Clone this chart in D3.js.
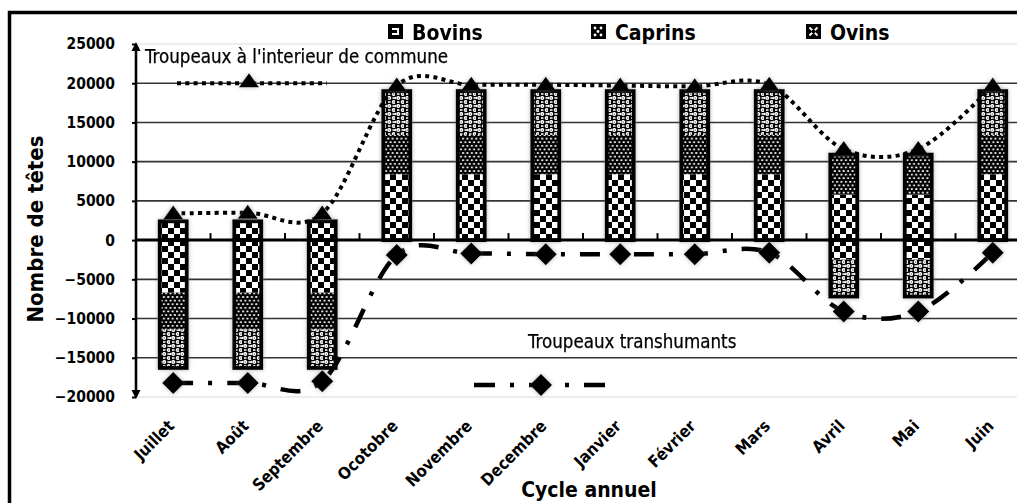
<!DOCTYPE html>
<html>
<head>
<meta charset="utf-8">
<script src="https://cdn.jsdelivr.net/npm/d3@7"></script>
<style>
  html, body { margin: 0; padding: 0; background: #fff; }
  svg { display: block; }
  text { font-family: "DejaVu Sans Condensed", "DejaVu Sans", sans-serif; font-stretch: condensed; fill: #000; }
</style>
</head>
<body>
<svg id="chart" width="1017" height="503"></svg>
<script>
// Months of the pastoral year
const months = ["Juillet", "Août", "Septembre", "Ocotobre", "Novembre", "Decembre",
                "Janvier", "Février", "Mars", "Avril", "Mai", "Juin"];

// Herds staying inside the commune (positive side)
const bovinsInterieur  = [2400, 2400, 2400, 8400, 8400, 8400, 8400, 8400, 8400, 5800, 5800, 8400];
const caprinsInterieur = [0, 0, 0, 5000, 5000, 5000, 5000, 5000, 5000, 5100, 5100, 5000];
const ovinsInterieur   = [0, 0, 0, 5600, 5600, 5600, 5600, 5600, 5600, 0, 0, 5600];

// Transhumant herds (negative side)
const bovinsTranshumants  = [-6700, -6700, -6700, 0, 0, 0, 0, 0, 0, -2500, -2500, 0];
const caprinsTranshumants = [-4700, -4700, -4700, 0, 0, 0, 0, 0, 0, 0, 0, 0];
const ovinsTranshumants   = [-4900, -4900, -4900, 0, 0, 0, 0, 0, 0, -4700, -4700, 0];

// Trend lines
const troupeauxInterieur    = [3400, 3500, 3400, 19700, 19800, 19800, 19700, 19600, 19800, 11600, 11600, 19700];
const troupeauxTranshumants = [-18200, -18200, -18000, -1900, -1700, -1800, -1800, -1800, -1600, -9100, -9100, -1600];

const yTicks = [-20000, -15000, -10000, -5000, 0, 5000, 10000, 15000, 20000, 25000];
const especes = ["Bovins", "Caprins", "Ovins"];

const svg = d3.select("#chart");
const defs = svg.append("defs");

// ---- fill patterns -------------------------------------------------------
const pBov = defs.append("pattern").attr("id", "p-bovins")
  .attr("patternUnits", "userSpaceOnUse").attr("width", 12).attr("height", 12);
pBov.append("rect").attr("width", 12).attr("height", 12).attr("fill", "#fff");
pBov.append("rect").attr("width", 6).attr("height", 6).attr("fill", "#000");
pBov.append("rect").attr("x", 6).attr("y", 6).attr("width", 6).attr("height", 6).attr("fill", "#000");

const pCap = defs.append("pattern").attr("id", "p-caprins")
  .attr("patternUnits", "userSpaceOnUse").attr("width", 4.4).attr("height", 7.2);
pCap.append("rect").attr("width", 4.4).attr("height", 7.2).attr("fill", "#000");
pCap.append("ellipse").attr("cx", 1.1).attr("cy", 1.8).attr("rx", 1.15).attr("ry", 0.95).attr("fill", "#fff");
pCap.append("ellipse").attr("cx", 3.3).attr("cy", 5.4).attr("rx", 1.15).attr("ry", 0.95).attr("fill", "#fff");

const pOv = defs.append("pattern").attr("id", "p-ovins")
  .attr("patternUnits", "userSpaceOnUse").attr("width", 9).attr("height", 8);
pOv.append("rect").attr("width", 9).attr("height", 8).attr("fill", "#fff");
[[2.25, 2], [6.75, 6], [6.75, -2], [-2.25, 6], [11.25, 6], [2.25, 10]].forEach(([cx, cy]) => {
  pOv.append("circle").attr("cx", cx).attr("cy", cy).attr("r", 2.7)
    .attr("fill", "none").attr("stroke", "#000").attr("stroke-width", 1.3);
  pOv.append("circle").attr("cx", cx).attr("cy", cy).attr("r", 0.6).attr("fill", "#000");
});

// soft grey halo around bars and markers
const glow = defs.append("filter").attr("id", "halo")
  .attr("x", "-40%").attr("y", "-40%").attr("width", "180%").attr("height", "180%");
glow.append("feGaussianBlur").attr("in", "SourceAlpha").attr("stdDeviation", 2.2).attr("result", "b");
glow.append("feFlood").attr("flood-color", "#777").attr("flood-opacity", 0.55);
glow.append("feComposite").attr("in2", "b").attr("operator", "in").attr("result", "s");
const gm = glow.append("feMerge");
gm.append("feMergeNode").attr("in", "s");
gm.append("feMergeNode").attr("in", "SourceGraphic");

const fills = { Bovins: "url(#p-bovins)", Caprins: "url(#p-caprins)", Ovins: "url(#p-ovins)" };

// ---- scales --------------------------------------------------------------
const x = d3.scaleBand().domain(months).range([136, 1030]).padding(0);
const y = d3.scaleLinear().domain([-20000, 25000]).range([397, 44]);
const barW = 27;

// ---- outer frame ---------------------------------------------------------
svg.append("rect").attr("x", 9.5).attr("y", 12.5).attr("width", 1100).attr("height", 600)
  .attr("fill", "none").attr("stroke", "#000").attr("stroke-width", 3.5);

// ---- grid ----------------------------------------------------------------
const grid = svg.append("g");
yTicks.forEach(v => {
  const edge = (v === 25000 || v === -20000);
  if (v === 0) return;
  grid.append("line")
    .attr("x1", x.range()[0]).attr("x2", 1017)
    .attr("y1", y(v)).attr("y2", y(v))
    .attr("stroke", edge ? "#d5dbe3" : "#333")
    .attr("stroke-width", edge ? 1.2 : 1.6);
});

// ---- stacked bars --------------------------------------------------------
const rows = months.map((m, i) => ({
  mois: m,
  Bovins_i: bovinsInterieur[i], Caprins_i: caprinsInterieur[i], Ovins_i: ovinsInterieur[i],
  Bovins_t: bovinsTranshumants[i], Caprins_t: caprinsTranshumants[i], Ovins_t: ovinsTranshumants[i]
}));
const keys = ["Bovins_i", "Caprins_i", "Ovins_i", "Bovins_t", "Caprins_t", "Ovins_t"];
const series = d3.stack().keys(keys).offset(d3.stackOffsetDiverging)(rows);

const bars = svg.append("g").attr("filter", "url(#halo)");
months.forEach((m, i) => {
  const top = bovinsInterieur[i] + caprinsInterieur[i] + ovinsInterieur[i];
  const bot = bovinsTranshumants[i] + caprinsTranshumants[i] + ovinsTranshumants[i];
  const cx = x(m) + x.bandwidth() / 2;
  const g = bars.append("g");
  series.forEach(s => {
    const d = s[i];
    if (d[0] === d[1]) return;
    g.append("rect")
      .attr("x", cx - barW / 2).attr("width", barW)
      .attr("y", y(Math.max(d[0], d[1]))).attr("height", Math.abs(y(d[0]) - y(d[1])))
      .attr("fill", fills[s.key.split("_")[0]]);
  });
  [[0, top], [bot, 0]].forEach(([a, b]) => {
    if (a === b) return;
    g.append("rect")
      .attr("x", cx - barW / 2).attr("width", barW)
      .attr("y", y(b)).attr("height", y(a) - y(b))
      .attr("fill", "none").attr("stroke", "#000").attr("stroke-width", 3.8);
  });
});

// ---- axes ----------------------------------------------------------------
const x0 = x.range()[0];
// horizontal zero line
svg.append("line").attr("x1", x0).attr("x2", 1017).attr("y1", y(0)).attr("y2", y(0))
  .attr("stroke", "#000").attr("stroke-width", 3);
// category boundary ticks on the zero line
months.slice(1).forEach(m => {
  svg.append("line").attr("x1", x(m)).attr("x2", x(m))
    .attr("y1", y(0)).attr("y2", y(0) - 7).attr("stroke", "#000").attr("stroke-width", 2);
});

// vertical axis with arrowheads
const yAxisG = svg.append("g").attr("transform", `translate(${x0},0)`)
  .call(d3.axisLeft(y).tickValues(yTicks).tickSize(4).tickPadding(17).tickFormat(d3.format("d")));
yAxisG.select(".domain").remove();
yAxisG.selectAll(".tick line").attr("stroke", "#000").attr("stroke-width", 2);
yAxisG.selectAll(".tick text")
  .attr("font-family", '"DejaVu Sans Condensed", "DejaVu Sans", sans-serif')
  .attr("font-size", 15.5).attr("font-weight", "bold");
svg.append("line").attr("x1", x0).attr("x2", x0).attr("y1", y(25000) + 2).attr("y2", y(-20000) - 2)
  .attr("stroke", "#000").attr("stroke-width", 2.6);
svg.append("path").attr("d", `M${x0},${y(25000) - 2} l-4.5,9 l9,0 Z`).attr("fill", "#000");
svg.append("path").attr("d", `M${x0},${y(-20000) + 2} l-4.5,-9 l9,0 Z`).attr("fill", "#000");

// month labels
svg.append("g").selectAll("text").data(months).join("text")
  .attr("transform", m => `translate(${x(m) + x.bandwidth() / 2 + 2},${427}) rotate(-45)`)
  .attr("text-anchor", "end")
  .attr("font-size", 16.5).attr("font-weight", "bold")
  .text(m => m);

// axis titles
svg.append("text").attr("transform", "translate(43,229) rotate(-90)")
  .attr("text-anchor", "middle").attr("font-size", 22).attr("font-weight", "bold")
  .text("Nombre de têtes");
svg.append("text").attr("x", 589).attr("y", 497)
  .attr("text-anchor", "middle").attr("font-size", 21).attr("font-weight", "bold")
  .text("Cycle annuel");

// ---- trend lines ---------------------------------------------------------
const line = d3.line()
  .x((d, i) => x(months[i]) + x.bandwidth() / 2)
  .y(d => y(d))
  .curve(d3.curveCardinal.tension(0));

svg.append("path").datum(troupeauxInterieur).attr("d", line)
  .attr("fill", "none").attr("stroke", "#000").attr("stroke-width", 4)
  .attr("stroke-dasharray", "4 4.3");
svg.append("path").datum(troupeauxTranshumants).attr("d", line)
  .attr("fill", "none").attr("stroke", "#000").attr("stroke-width", 4.5)
  .attr("stroke-dasharray", "20 15 4 15");

const triangle = "M0,-8 L10,6 L-10,6 Z";
const diamond = "M0,-11 L11,0 L0,11 L-11,0 Z";

const marks = svg.append("g").attr("filter", "url(#halo)");
marks.selectAll(".tri").data(troupeauxInterieur).join("path")
  .attr("d", triangle)
  .attr("transform", (d, i) => `translate(${x(months[i]) + x.bandwidth() / 2},${y(d)})`);
marks.selectAll(".dia").data(troupeauxTranshumants).join("path")
  .attr("d", diamond)
  .attr("transform", (d, i) => `translate(${x(months[i]) + x.bandwidth() / 2},${y(d)})`);

// ---- series labels with line samples -------------------------------------
svg.append("text").attr("x", 145).attr("y", 63).attr("font-size", 18.6)
  .attr("stroke", "#000").attr("stroke-width", 0.25)
  .text("Troupeaux à l'interieur de commune");
svg.append("line").attr("x1", 177).attr("x2", 327).attr("y1", y(20000)).attr("y2", y(20000))
  .attr("stroke", "#000").attr("stroke-width", 4).attr("stroke-dasharray", "4 4.3");
svg.append("path").attr("d", triangle).attr("transform", `translate(249,${y(20000) - 2})`)
  .attr("filter", "url(#halo)");

svg.append("text").attr("x", 528).attr("y", 348).attr("font-size", 18.6)
  .attr("stroke", "#000").attr("stroke-width", 0.25)
  .text("Troupeaux transhumants");
svg.append("line").attr("x1", 474).attr("x2", 607).attr("y1", 385).attr("y2", 385)
  .attr("stroke", "#000").attr("stroke-width", 4.5).attr("stroke-dasharray", "21 15 4 15");
svg.append("path").attr("d", diamond).attr("transform", "translate(541,385)")
  .attr("filter", "url(#halo)");

// ---- legend --------------------------------------------------------------
const legendX = { Bovins: 388, Caprins: 591, Ovins: 806 };
const leg = svg.append("g");
especes.forEach(e => {
  const gx = legendX[e];
  const g = leg.append("g").attr("transform", `translate(${gx},24)`);
  g.append("rect").attr("width", 15).attr("height", 15).attr("fill", "#000");
  if (e === "Bovins") {
    g.append("path").attr("d", "M4,4 h7 v7 h-7 v-2 h5 v-3 h-5 Z").attr("fill", "#fff");
  } else if (e === "Caprins") {
    [[4, 4], [10, 4], [7, 7.5], [4, 11], [10, 11]].forEach(([cx, cy]) =>
      g.append("circle").attr("cx", cx).attr("cy", cy).attr("r", 1.4).attr("fill", "#fff"));
  } else {
    g.append("path").attr("d", "M3.5,3.5 L11.5,11.5 M11.5,3.5 L3.5,11.5")
      .attr("stroke", "#fff").attr("stroke-width", 1.8);
    g.append("circle").attr("cx", 7.5).attr("cy", 7.5).attr("r", 2).attr("fill", "#000");
  }
  g.append("text").attr("x", 24).attr("y", 15.5).attr("font-size", 21).attr("font-weight", "bold")
    .text(e);
});
</script>
</body>
</html>
